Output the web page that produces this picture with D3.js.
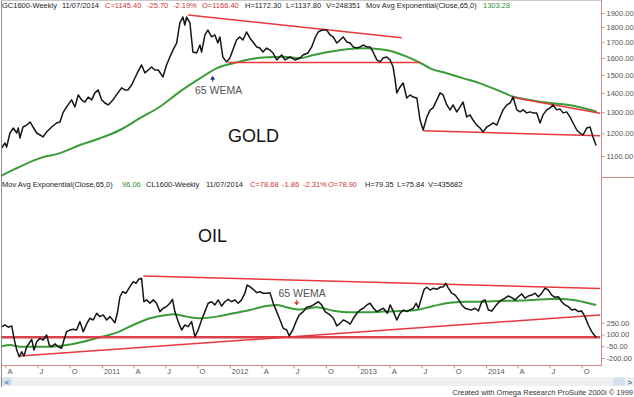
<!DOCTYPE html>
<html lang="en">
<head>
<meta charset="UTF-8">
<title>Gold / Oil weekly</title>
<script src="https://d3js.org/d3.v7.min.js"></script>
<style>
  body { margin: 0; background: #fff; }
  svg { display: block; font-family: "Liberation Sans", Arial, sans-serif; }
</style>
</head>
<body>
<div id="chart"></div>
<script>

const goldClose = [[2010.216,1134],[2010.242,1156],[2010.255,1138],[2010.281,1201],[2010.307,1224],[2010.334,1201],[2010.346,1224],[2010.359,1178],[2010.383,1229],[2010.412,1238],[2010.438,1253],[2010.461,1229],[2010.490,1201],[2010.516,1192],[2010.539,1183],[2010.568,1206],[2010.607,1229],[2010.646,1248],[2010.672,1253],[2010.695,1297],[2010.724,1327],[2010.763,1363],[2010.789,1327],[2010.815,1389],[2010.841,1363],[2010.867,1352],[2010.893,1378],[2010.920,1363],[2010.945,1400],[2010.971,1416],[2010.998,1363],[2011.023,1347],[2011.049,1337],[2011.086,1363],[2011.125,1400],[2011.154,1427],[2011.180,1416],[2011.203,1416],[2011.232,1443],[2011.258,1482],[2011.281,1517],[2011.310,1558],[2011.336,1511],[2011.362,1528],[2011.388,1546],[2011.414,1528],[2011.440,1528],[2011.477,1488],[2011.505,1558],[2011.531,1606],[2011.555,1649],[2011.584,1694],[2011.609,1829],[2011.633,1871],[2011.648,1815],[2011.662,1871],[2011.688,1829],[2011.711,1637],[2011.740,1631],[2011.766,1681],[2011.779,1637],[2011.805,1747],[2011.828,1780],[2011.857,1734],[2011.883,1747],[2011.906,1694],[2011.922,1734],[2011.945,1606],[2011.974,1576],[2012.000,1600],[2012.023,1649],[2012.052,1714],[2012.078,1734],[2012.102,1714],[2012.130,1767],[2012.156,1727],[2012.180,1701],[2012.209,1669],[2012.234,1662],[2012.258,1637],[2012.287,1662],[2012.313,1649],[2012.336,1631],[2012.365,1588],[2012.404,1618],[2012.430,1588],[2012.469,1606],[2012.508,1588],[2012.547,1600],[2012.570,1618],[2012.609,1631],[2012.638,1669],[2012.664,1727],[2012.688,1767],[2012.716,1780],[2012.755,1780],[2012.781,1747],[2012.805,1734],[2012.834,1694],[2012.859,1714],[2012.883,1734],[2012.912,1701],[2012.938,1694],[2012.961,1669],[2012.990,1662],[2013.016,1669],[2013.039,1681],[2013.068,1669],[2013.094,1669],[2013.117,1637],[2013.146,1588],[2013.172,1576],[2013.195,1600],[2013.224,1606],[2013.250,1588],[2013.273,1546],[2013.289,1471],[2013.302,1400],[2013.328,1432],[2013.352,1454],[2013.380,1373],[2013.406,1389],[2013.430,1378],[2013.459,1373],[2013.484,1262],[2013.508,1215],[2013.537,1277],[2013.563,1312],[2013.586,1322],[2013.615,1363],[2013.641,1400],[2013.664,1389],[2013.693,1337],[2013.719,1312],[2013.742,1337],[2013.771,1302],[2013.797,1327],[2013.820,1352],[2013.849,1277],[2013.875,1287],[2013.898,1262],[2013.927,1238],[2013.953,1224],[2013.977,1206],[2014.005,1229],[2014.031,1238],[2014.055,1248],[2014.084,1238],[2014.109,1277],[2014.133,1312],[2014.162,1337],[2014.188,1347],[2014.211,1378],[2014.240,1312],[2014.266,1302],[2014.289,1312],[2014.318,1297],[2014.344,1302],[2014.367,1297],[2014.396,1297],[2014.422,1248],[2014.445,1287],[2014.474,1312],[2014.500,1322],[2014.523,1337],[2014.552,1312],[2014.578,1317],[2014.602,1297],[2014.630,1302],[2014.656,1277],[2014.680,1248],[2014.709,1215],[2014.734,1201],[2014.758,1192],[2014.787,1224],[2014.813,1229],[2014.836,1183],[2014.860,1145]];

// 65 week exponential average
const goldEma = [[2010.203,1017],[2010.359,1056],[2010.516,1091],[2010.672,1112],[2010.828,1147],[2010.984,1177],[2011.141,1215],[2011.297,1271],[2011.453,1328],[2011.609,1407],[2011.766,1480],[2011.896,1538],[2012.026,1568],[2012.156,1592],[2012.287,1604],[2012.416,1608],[2012.547,1599],[2012.651,1618],[2012.781,1639],[2012.912,1654],[2013.041,1660],[2013.172,1654],[2013.276,1639],[2013.380,1608],[2013.484,1571],[2013.563,1538],[2013.693,1509],[2013.823,1480],[2013.953,1452],[2014.084,1416],[2014.213,1380],[2014.344,1363],[2014.474,1349],[2014.604,1340],[2014.734,1325],[2014.865,1303]];

const goldTrends = [
  [[2011.674,1885],[2013.341,1729]],
  [[2011.987,1573],[2013.484,1573]],
  [[2014.201,1377],[2014.891,1295]],
  [[2013.510,1212],[2014.891,1188]]
];

const oilClose = [[2010.216,84.4],[2010.242,85.3],[2010.268,84.1],[2010.295,84.8],[2010.313,78.1],[2010.334,71.8],[2010.354,68.2],[2010.373,70.9],[2010.391,68.6],[2010.412,73.6],[2010.432,75.5],[2010.451,77.6],[2010.469,71.8],[2010.490,76.3],[2010.516,78.1],[2010.541,77.2],[2010.568,79.9],[2010.588,74.5],[2010.607,73.6],[2010.633,75.1],[2010.659,73.6],[2010.685,72.8],[2010.703,77.2],[2010.724,81.7],[2010.750,82.6],[2010.776,83.0],[2010.802,82.6],[2010.828,87.1],[2010.854,81.7],[2010.885,86.5],[2010.906,88.9],[2010.932,88.0],[2010.959,91.6],[2010.984,89.8],[2011.010,90.7],[2011.037,88.0],[2011.063,89.8],[2011.102,86.5],[2011.120,91.6],[2011.141,100.5],[2011.162,103.2],[2011.188,102.4],[2011.219,105.9],[2011.245,108.6],[2011.266,107.7],[2011.287,109.9],[2011.310,110.4],[2011.328,97.8],[2011.349,98.8],[2011.375,97.0],[2011.401,98.8],[2011.427,97.0],[2011.453,92.5],[2011.479,94.3],[2011.505,95.2],[2011.531,97.0],[2011.552,99.1],[2011.570,92.5],[2011.596,87.1],[2011.623,82.6],[2011.648,85.3],[2011.674,84.4],[2011.701,87.1],[2011.727,79.0],[2011.752,82.6],[2011.779,88.0],[2011.805,92.5],[2011.830,97.0],[2011.857,97.8],[2011.883,96.1],[2011.909,98.8],[2011.935,95.5],[2011.961,97.8],[2011.987,99.1],[2012.013,97.8],[2012.039,98.8],[2012.065,97.0],[2012.091,98.8],[2012.117,102.4],[2012.135,106.8],[2012.156,105.9],[2012.182,104.5],[2012.209,102.7],[2012.234,103.2],[2012.260,102.4],[2012.287,102.4],[2012.313,102.7],[2012.338,97.0],[2012.365,92.5],[2012.391,88.0],[2012.416,83.5],[2012.443,82.6],[2012.463,79.4],[2012.490,82.6],[2012.516,87.1],[2012.541,90.7],[2012.573,92.5],[2012.599,94.8],[2012.625,95.2],[2012.651,96.1],[2012.690,97.8],[2012.716,96.1],[2012.742,92.5],[2012.781,90.7],[2012.807,88.9],[2012.834,84.8],[2012.859,86.2],[2012.885,88.0],[2012.912,87.1],[2012.938,85.8],[2012.963,88.9],[2012.990,91.6],[2013.016,93.4],[2013.041,94.3],[2013.068,96.1],[2013.094,97.0],[2013.120,94.3],[2013.146,92.5],[2013.172,93.4],[2013.198,94.3],[2013.229,91.6],[2013.250,96.1],[2013.276,92.5],[2013.302,88.0],[2013.328,91.6],[2013.354,93.4],[2013.380,92.5],[2013.406,93.4],[2013.432,94.3],[2013.453,97.0],[2013.471,94.3],[2013.498,100.5],[2013.516,104.5],[2013.537,105.6],[2013.563,104.1],[2013.588,105.1],[2013.615,104.5],[2013.641,105.6],[2013.666,105.9],[2013.685,107.7],[2013.705,105.1],[2013.732,102.4],[2013.758,101.4],[2013.784,99.1],[2013.810,96.1],[2013.836,94.3],[2013.862,93.8],[2013.888,93.4],[2013.914,94.3],[2013.940,92.8],[2013.966,97.8],[2013.992,98.8],[2014.018,93.4],[2014.045,92.8],[2014.070,95.2],[2014.096,97.3],[2014.123,98.8],[2014.148,99.7],[2014.174,100.9],[2014.201,100.0],[2014.227,98.8],[2014.252,100.5],[2014.279,102.0],[2014.305,99.7],[2014.330,100.9],[2014.357,101.4],[2014.383,102.4],[2014.409,100.5],[2014.435,102.4],[2014.461,105.1],[2014.487,104.1],[2014.513,101.4],[2014.539,100.2],[2014.565,100.5],[2014.591,97.8],[2014.617,96.1],[2014.643,95.2],[2014.670,93.4],[2014.695,93.8],[2014.721,92.5],[2014.748,92.8],[2014.773,89.8],[2014.799,85.3],[2014.826,81.7],[2014.845,79.9],[2014.860,78.7]];

const oilEma = [[2010.203,73.6],[2010.281,74.5],[2010.359,73.6],[2010.463,73.6],[2010.594,73.6],[2010.724,74.5],[2010.854,76.3],[2010.984,78.7],[2011.115,81.2],[2011.245,85.3],[2011.375,88.9],[2011.505,90.7],[2011.557,91.1],[2011.662,89.8],[2011.766,88.9],[2011.896,89.8],[2012.026,91.6],[2012.156,93.4],[2012.287,95.5],[2012.365,96.1],[2012.443,94.8],[2012.547,93.6],[2012.677,94.8],[2012.807,93.0],[2012.938,92.1],[2013.068,92.1],[2013.198,92.5],[2013.328,92.8],[2013.459,93.4],[2013.588,95.5],[2013.719,97.3],[2013.849,97.8],[2013.979,97.8],[2014.109,98.2],[2014.240,98.4],[2014.370,98.8],[2014.500,99.3],[2014.578,99.3],[2014.682,98.8],[2014.787,97.3],[2014.860,96.1]];

const oilTrends = [
  [[2011.323,111.7],[2014.891,104.9]],
  [[2010.359,68.6],[2014.891,90.7]]
];
const oilSupport = [[2010.203,78.7],[2014.891,78.7]];

const goldTicks = [1900, 1800, 1700, 1600, 1500, 1400, 1300, 1200, 1100];
const oilTicks = [250, 100, -50, -200];

const xTickDates = ["2010-04-01","2010-07-01","2010-10-01","2011-01-01","2011-04-01","2011-07-01","2011-10-01","2012-01-01","2012-04-01","2012-07-01","2012-10-01","2013-01-01","2013-04-01","2013-07-01","2013-10-01","2014-01-01","2014-04-01","2014-07-01","2014-10-01"];
const xTickLabels = ["A","J","O","2011","A","J","O","2012","A","J","O","2013","A","J","O","2014","A","J","O"];

const BLACK = "#1c1c1c", RED = "#cc3636", GREEN = "#2f8f2f";
const goldHeader = [["GC1600-Weekly",BLACK],["11/07/2014",BLACK],["C=1145.40",RED],["-25.70",RED],["-2.19%",RED],["O=1166.40",RED],["H=1172.30",BLACK],["L=1137.80",BLACK],["V=248351",BLACK],["Mov Avg Exponential(Close,65,0)",BLACK],["1303.28",GREEN]];
const oilHeader = [["Mov Avg Exponential(Close,65,0)",BLACK],["96.06",GREEN],["CL1600-Weekly",BLACK],["11/07/2014",BLACK],["C=78.68",RED],["-1.86",RED],["-2.31%",RED],["O=78.90",RED],["H=79.35",BLACK],["L=75.84",BLACK],["V=435682",BLACK]];

// ---------------------------------------------------------------

const W = 634, H = 397;
const plotRight = 601, axisY = 365, split = 178;

const svg = d3.select("#chart").append("svg")
  .attr("width", W).attr("height", H);

function toDate(t) {
  const yr = Math.floor(t);
  const a = Date.UTC(yr, 0, 1), b = Date.UTC(yr + 1, 0, 1);
  return new Date(a + (t - yr) * (b - a));
}

const x = d3.scaleUtc()
  .domain([new Date(Date.UTC(2010, 0, 1)), new Date(Date.UTC(2015, 0, 1))])
  .range([-26, 614]);

const goldY = d3.scaleLog().domain([1100, 1900]).range([156, 13]);
const oilY = d3.scaleLinear().domain([60, 120]).range([372, 260.5]);
const oilAxisY = d3.scaleLinear().domain([-200, 250]).range([358, 322.7]);

// background pieces
svg.append("rect").attr("x", 0).attr("y", 377).attr("width", W).attr("height", 9).attr("fill", "#efefef");
svg.append("rect").attr("x", 2).attr("y", 377.5).attr("width", 10).attr("height", 8).attr("rx", 1.5).attr("fill", "#d5e0ef");
svg.append("rect").attr("x", 613).attr("y", 377.5).attr("width", 12).attr("height", 8).attr("rx", 1.5).attr("fill", "#d5e0ef");
svg.append("text").attr("x", 4.5).attr("y", 384.5).attr("font-size", 8).attr("font-weight", "bold").attr("fill", "#5b7bb0").text("<");
svg.append("text").attr("x", 627.5).attr("y", 384.5).attr("font-size", 8).attr("font-weight", "bold").attr("fill", "#5b7bb0").text(">");
svg.append("text").attr("x", 633).attr("y", 394.5).attr("text-anchor", "end")
  .attr("font-size", 7.5).attr("fill", "#333").text("Created with Omega Research ProSuite 2000i \u00a9 1999");

const defs = svg.append("defs");
defs.append("clipPath").attr("id", "clipGold").append("rect")
  .attr("x", 2).attr("y", 0).attr("width", plotRight - 2).attr("height", split);
defs.append("clipPath").attr("id", "clipOil").append("rect")
  .attr("x", 2).attr("y", split).attr("width", plotRight - 2).attr("height", axisY - split);

function drawPanel(clipId, y, close, ema, trends, support) {
  const g = svg.append("g").attr("clip-path", `url(#${clipId})`);
  const line = d3.line().x(d => x(toDate(d[0]))).y(d => y(d[1]));

  g.append("path").datum(ema)
    .attr("fill", "none").attr("stroke", "#3b9b36").attr("stroke-width", 2)
    .attr("d", d3.line().x(d => x(toDate(d[0]))).y(d => y(d[1])).curve(d3.curveMonotoneX));

  if (support) {
    g.append("path").datum(support)
      .attr("fill", "none").attr("stroke", "#d9404a").attr("stroke-width", 2.4)
      .attr("d", line);
  }
  trends.forEach(tr => {
    g.append("path").datum(tr)
      .attr("fill", "none").attr("stroke", "#e8383c").attr("stroke-width", 1.5)
      .attr("d", line);
  });

  g.append("path").datum(close)
    .attr("fill", "none").attr("stroke", "#151515").attr("stroke-width", 1.5)
    .attr("stroke-linejoin", "round")
    .attr("d", line);
  return g;
}

drawPanel("clipGold", goldY, goldClose, goldEma, goldTrends, null);
drawPanel("clipOil", oilY, oilClose, oilEma, oilTrends, oilSupport);

// header lines
const goldHeaderX = [2, 62, 105, 147, 173, 202, 245, 286, 326, 366, 483];
const oilHeaderX = [2, 122, 146, 206, 250, 282, 303, 328, 365, 397, 428];

function header(items, xs, baseY) {
  svg.append("g").selectAll("text").data(items).join("text")
    .attr("x", (d, i) => xs[i]).attr("y", baseY)
    .attr("font-size", 7.5).attr("fill", d => d[1])
    .text(d => d[0]);
}
header(goldHeader, goldHeaderX, 8);
header(oilHeader, oilHeaderX, 186.5);

// labels inside the panels
svg.append("text").attr("x", 228).attr("y", 142).attr("font-size", 18).attr("fill", "#111").text("GOLD");
svg.append("text").attr("x", 198).attr("y", 242).attr("font-size", 18).attr("fill", "#111").text("OIL");

svg.append("text").attr("x", 195).attr("y", 93.5).attr("font-size", 10.5).attr("fill", "#555").text("65 WEMA");
svg.append("text").attr("x", 278.5).attr("y", 297).attr("font-size", 10.5).attr("fill", "#555").text("65 WEMA");

// little arrows pointing to the averages
const gax = x(toDate(2011.865)), gay = goldY(1490);
svg.append("path")
  .attr("d", `M${gax},${gay} L${gax - 1.8},${gay + 2.6} L${gax + 1.8},${gay + 2.6} Z M${gax},${gay + 2} L${gax},${gay + 5}`)
  .attr("fill", "#1d2d8e").attr("stroke", "#1d2d8e").attr("stroke-width", 1);
const oax = x(toDate(2012.521)), oay = oilY(96.1);
svg.append("path")
  .attr("d", `M${oax},${oay} L${oax - 1.8},${oay - 2.6} L${oax + 1.8},${oay - 2.6} Z M${oax},${oay - 2} L${oax},${oay - 5}`)
  .attr("fill", "#d33", "").attr("stroke", "#d33").attr("stroke-width", 1);

// frame lines
const AXIS_COL = "#d18a8a";
svg.append("line").attr("x1", 1.5).attr("x2", 1.5).attr("y1", 0).attr("y2", 387).attr("stroke", "#8c8c8c");
svg.append("line").attr("x1", 1).attr("x2", plotRight).attr("y1", 0.5).attr("y2", 0.5).attr("stroke", "#c8c8c8");
svg.append("line").attr("x1", plotRight + 0.5).attr("x2", plotRight + 0.5).attr("y1", 0).attr("y2", axisY + 1).attr("stroke", AXIS_COL);
svg.append("line").attr("x1", 1).attr("x2", plotRight + 1).attr("y1", axisY + 0.5).attr("y2", axisY + 0.5).attr("stroke", AXIS_COL);
svg.append("line").attr("x1", plotRight).attr("x2", W).attr("y1", split - 0.5).attr("y2", split - 0.5).attr("stroke", AXIS_COL);

function styleAxis(g) {
  g.select(".domain").remove();
  g.selectAll(".tick line").attr("stroke", AXIS_COL);
  g.selectAll(".tick text").attr("fill", "#555").attr("font-size", 7.5)
    .attr("font-family", "'Liberation Sans', Arial, sans-serif");
}

svg.append("g").attr("transform", `translate(${plotRight + 0.5},0)`)
  .call(d3.axisRight(goldY).tickValues(goldTicks).tickFormat(d => d.toFixed(2)).tickSize(3).tickPadding(2))
  .call(styleAxis);

svg.append("g").attr("transform", `translate(${plotRight + 0.5},0)`)
  .call(d3.axisRight(oilAxisY).tickValues(oilTicks).tickFormat(d => d.toFixed(2)).tickSize(3).tickPadding(2))
  .call(styleAxis);

const xAxis = svg.append("g").attr("transform", `translate(0,${axisY + 0.5})`)
  .call(d3.axisBottom(x)
    .tickValues(xTickDates.map(s => new Date(s + "T00:00:00Z")))
    .tickFormat((d, i) => xTickLabels[i])
    .tickSize(3).tickPadding(0))
  .call(styleAxis);
xAxis.selectAll(".tick text").attr("text-anchor", "start").attr("x", 1.5);
</script>
</body>
</html>
